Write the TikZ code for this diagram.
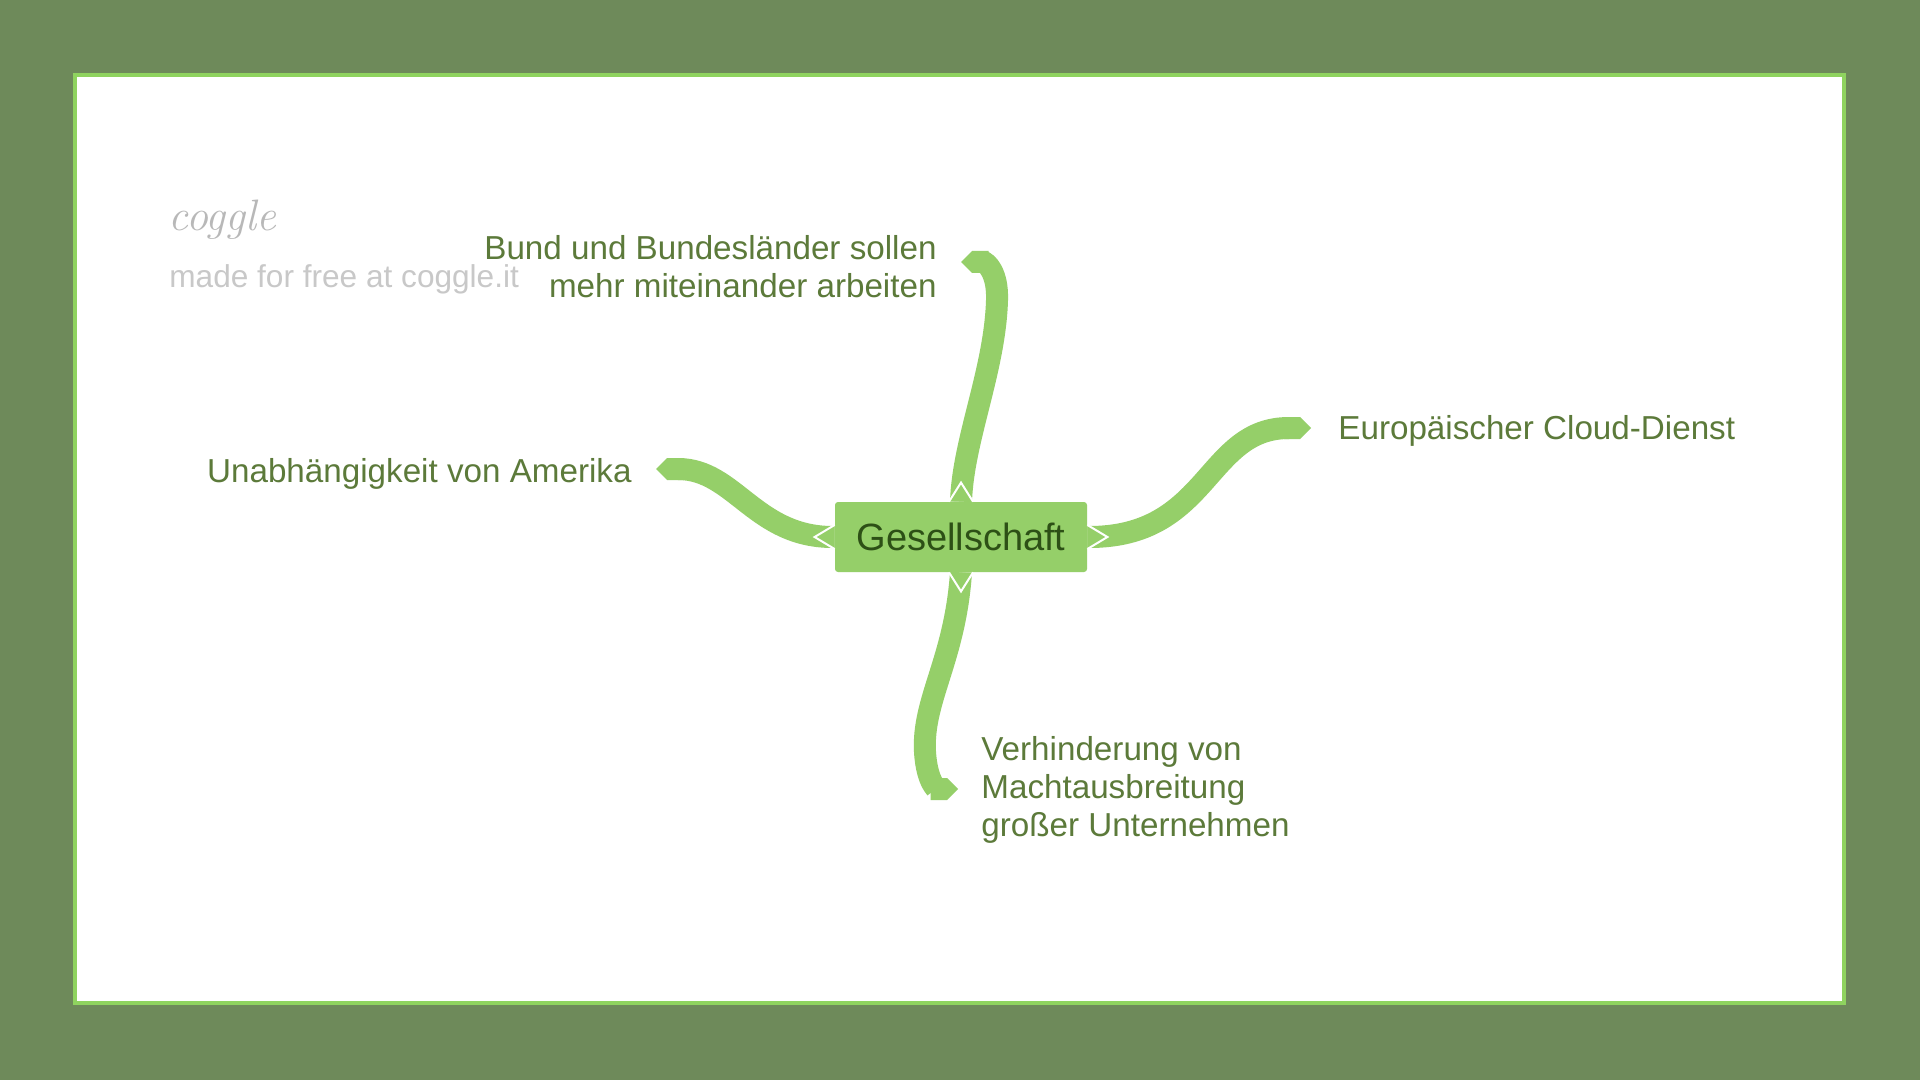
\documentclass[tikz,border=0pt]{standalone}
\usepackage{fontspec}
\setsansfont{Liberation Sans}
\usepackage{tikz}
\usetikzlibrary{arrows.meta}
\definecolor{framegreen}{HTML}{6E8A5A}
\definecolor{edgegreen}{HTML}{8FD35F}
\definecolor{leafgreen}{HTML}{95CF69}
\definecolor{labelgreen}{HTML}{5C7A3A}
\definecolor{rootgreen}{HTML}{2D5016}
\definecolor{logogray}{HTML}{B8B8B8}
\definecolor{creditgray}{HTML}{C8C8C8}
\tikzset{
  branch/.style={leafgreen, line width=11pt, -{Triangle Cap[]}},
  lbl/.style={text=labelgreen, inner sep=0pt, font=\sffamily\fontsize{16.6}{19}\selectfont},
  notch/.style={draw=white, line width=1pt, fill=leafgreen},
}

\begin{document}
\begin{tikzpicture}[x=0.5pt,y=-0.5pt]
\useasboundingbox (0,0) rectangle (1920,1080);
\fill[framegreen] (0,0) rectangle (1920,1080);
\draw[edgegreen, line width=2pt, fill=white] (75,75) rectangle (1844,1003);
%
\node[logogray, anchor=west, inner sep=0pt, font=\rmfamily\itshape\fontsize{22}{22}\selectfont] (logo) at (168,220) {coggle};
\node[creditgray, anchor=west, inner sep=0pt, font=\sffamily\fontsize{15.8}{18}\selectfont] (credit) at (169,279) {made for free at coggle.it};
%
\node[fill=leafgreen, rounded corners=1.5pt, minimum width=126pt, minimum height=35pt, text=rootgreen, font=\sffamily\fontsize{19}{20}\selectfont] (cen) at (961,537) {Gesellschaft};
%
\coordinate (tipN) at (961,262);
\coordinate (tipE) at (1311,428);
\coordinate (tipW) at (656,469);
\coordinate (tipS) at (958,789);
%
\draw[branch] (cen.north) .. controls (963,440) and (995,370) .. (997,300) .. controls (998,272) and (986,262) .. (tipN);
\draw[branch] (cen.east) .. controls (1210,538) and (1205,428) .. (tipE);
\draw[branch] (cen.west) .. controls (755,538) and (735,469) .. (tipW);
\draw[branch] (cen.south) .. controls (955,660) and (922,700) .. (925,752) .. controls (927,784) and (938,789) .. (tipS);
%
\path[notch] ([xshift=-6pt]cen.north) -- ([yshift=9.5pt]cen.north) -- ([xshift=6pt]cen.north);
\path[notch] ([xshift=-6pt]cen.south) -- ([yshift=-9.5pt]cen.south) -- ([xshift=6pt]cen.south);
\path[notch] ([yshift=6pt]cen.west) -- ([xshift=-10pt]cen.west) -- ([yshift=-6pt]cen.west);
\path[notch] ([yshift=6pt]cen.east) -- ([xshift=10pt]cen.east) -- ([yshift=-6pt]cen.east);
%
\node[lbl, anchor=east, align=right] (lblN) at (937,267) {Bund und Bundesländer sollen\\mehr miteinander arbeiten};
\node[lbl, anchor=west] (lblE) at (1338,431) {Europäischer Cloud-Dienst};
\node[lbl, anchor=east] (lblW) at (632,474) {Unabhängigkeit von Amerika};
\node[lbl, anchor=west, align=left] (lblS) at (981,790) {Verhinderung von\\Machtausbreitung\\großer Unternehmen};
\end{tikzpicture}
\end{document}
